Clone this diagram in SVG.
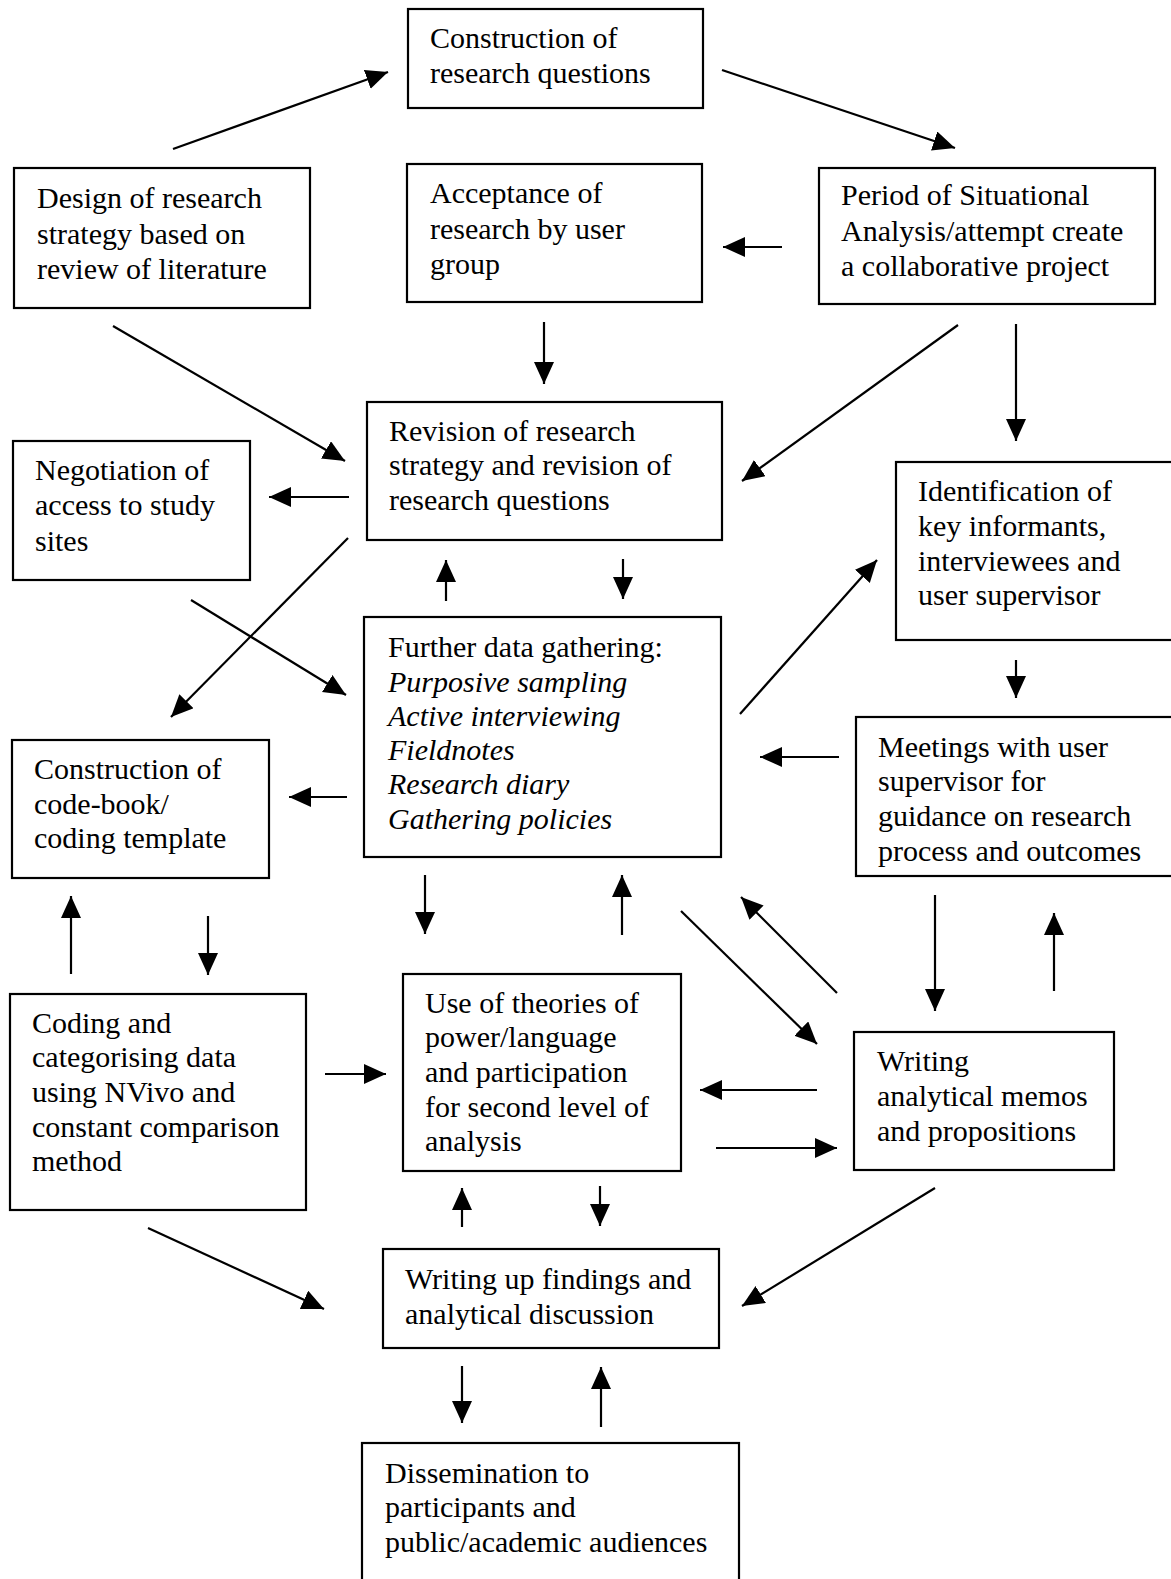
<svg xmlns="http://www.w3.org/2000/svg" width="1171" height="1579" viewBox="0 0 1171 1579">
<defs>
<marker id="ah" markerUnits="userSpaceOnUse" markerWidth="24" markerHeight="22" refX="22" refY="10" orient="auto">
<path d="M0,0 L22,10 L0,20 z" fill="#000"/>
</marker>
<style>
rect{fill:#fff;stroke:#000;stroke-width:2.2}
text{font-family:"Liberation Serif","Times New Roman","DejaVu Serif",serif;font-size:30px;fill:#000}
.i{font-style:italic}
#connectors line{stroke:#000;stroke-width:2.2;marker-end:url(#ah)}
</style>
</defs>
<rect x="0" y="0" width="1171" height="1579" style="fill:#fff;stroke:none"/>
<g id="connectors">
<line x1="173" y1="149" x2="388" y2="72"/>
<line x1="722" y1="70" x2="955" y2="148"/>
<line x1="782" y1="247" x2="723" y2="247"/>
<line x1="544" y1="322" x2="544" y2="384"/>
<line x1="113" y1="326" x2="345" y2="461"/>
<line x1="958" y1="325" x2="742" y2="481"/>
<line x1="1016" y1="324" x2="1016" y2="441"/>
<line x1="349" y1="497" x2="269" y2="497"/>
<line x1="348" y1="538" x2="171" y2="717"/>
<line x1="191" y1="600" x2="346" y2="695"/>
<line x1="446" y1="601" x2="446" y2="560"/>
<line x1="623" y1="559" x2="623" y2="599"/>
<line x1="740" y1="714" x2="877" y2="560"/>
<line x1="1016" y1="660" x2="1016" y2="698"/>
<line x1="839" y1="757" x2="760" y2="757"/>
<line x1="347" y1="797" x2="289" y2="797"/>
<line x1="71" y1="974" x2="71" y2="896"/>
<line x1="208" y1="916" x2="208" y2="975"/>
<line x1="425" y1="875" x2="425" y2="934"/>
<line x1="622" y1="935" x2="622" y2="875"/>
<line x1="681" y1="911" x2="817" y2="1044"/>
<line x1="837" y1="993" x2="741" y2="897"/>
<line x1="935" y1="895" x2="935" y2="1011"/>
<line x1="1054" y1="991" x2="1054" y2="913"/>
<line x1="325" y1="1074" x2="386" y2="1074"/>
<line x1="817" y1="1090" x2="700" y2="1090"/>
<line x1="716" y1="1148" x2="837" y2="1148"/>
<line x1="462" y1="1227" x2="462" y2="1188"/>
<line x1="600" y1="1186" x2="600" y2="1226"/>
<line x1="148" y1="1228" x2="324" y2="1309"/>
<line x1="935" y1="1188" x2="742" y2="1306"/>
<line x1="462" y1="1366" x2="462" y2="1423"/>
<line x1="601" y1="1427" x2="601" y2="1367"/>
</g>
<g id="n1"><rect x="408" y="9" width="295" height="99"/>
<text x="430" y="48">Construction of</text><text x="430" y="83">research questions</text></g>
<g id="n2"><rect x="14" y="168" width="296" height="140"/>
<text x="37" y="208">Design of research</text><text x="37" y="244">strategy based on</text><text x="37" y="279">review of literature</text></g>
<g id="n3"><rect x="407" y="164" width="295" height="138"/>
<text x="430" y="203">Acceptance of</text><text x="430" y="239">research by user</text><text x="430" y="274">group</text></g>
<g id="n4"><rect x="819" y="168" width="336" height="136"/>
<text x="841" y="205">Period of Situational</text><text x="841" y="241">Analysis/attempt create</text><text x="841" y="276">a collaborative project</text></g>
<g id="n5"><rect x="367" y="402" width="355" height="138"/>
<text x="389" y="441">Revision of research</text><text x="389" y="475">strategy and revision of</text><text x="389" y="510">research questions</text></g>
<g id="n6"><rect x="13" y="441" width="237" height="139"/>
<text x="35" y="480">Negotiation of</text><text x="35" y="515">access to study</text><text x="35" y="551">sites</text></g>
<g id="n7"><rect x="896" y="462" width="280" height="178"/>
<text x="918" y="501">Identification of</text><text x="918" y="536">key informants,</text><text x="918" y="571">interviewees and</text><text x="918" y="605">user supervisor</text></g>
<g id="n8"><rect x="364" y="617" width="357" height="240"/>
<text x="388" y="657">Further data gathering:</text>
<text class="i" x="388" y="692">Purposive sampling</text>
<text class="i" x="388" y="726">Active interviewing</text>
<text class="i" x="388" y="760">Fieldnotes</text>
<text class="i" x="388" y="794">Research diary</text>
<text class="i" x="388" y="829">Gathering policies</text></g>
<g id="n9"><rect x="12" y="740" width="257" height="138"/>
<text x="34" y="779">Construction of</text><text x="34" y="814">code-book/</text><text x="34" y="848">coding template</text></g>
<g id="n10"><rect x="856" y="717" width="320" height="159"/>
<text x="878" y="757">Meetings with user</text><text x="878" y="791">supervisor for</text><text x="878" y="826">guidance on research</text><text x="878" y="861">process and outcomes</text></g>
<g id="n11"><rect x="10" y="994" width="296" height="216"/>
<text x="32" y="1033">Coding and</text><text x="32" y="1067">categorising data</text><text x="32" y="1102">using NVivo and</text><text x="32" y="1137">constant comparison</text><text x="32" y="1171">method</text></g>
<g id="n12"><rect x="403" y="974" width="278" height="197"/>
<text x="425" y="1013">Use of theories of</text><text x="425" y="1047">power/language</text><text x="425" y="1082">and participation</text><text x="425" y="1117">for second level of</text><text x="425" y="1151">analysis</text></g>
<g id="n13"><rect x="854" y="1032" width="260" height="138"/>
<text x="877" y="1071">Writing</text><text x="877" y="1106">analytical memos</text><text x="877" y="1141">and propositions</text></g>
<g id="n14"><rect x="383" y="1249" width="336" height="99"/>
<text x="405" y="1289">Writing up findings and</text><text x="405" y="1324">analytical discussion</text></g>
<g id="n15"><rect x="362" y="1443" width="377" height="150"/>
<text x="385" y="1483">Dissemination to</text><text x="385" y="1517">participants and</text><text x="385" y="1552">public/academic audiences</text></g>
</svg>
